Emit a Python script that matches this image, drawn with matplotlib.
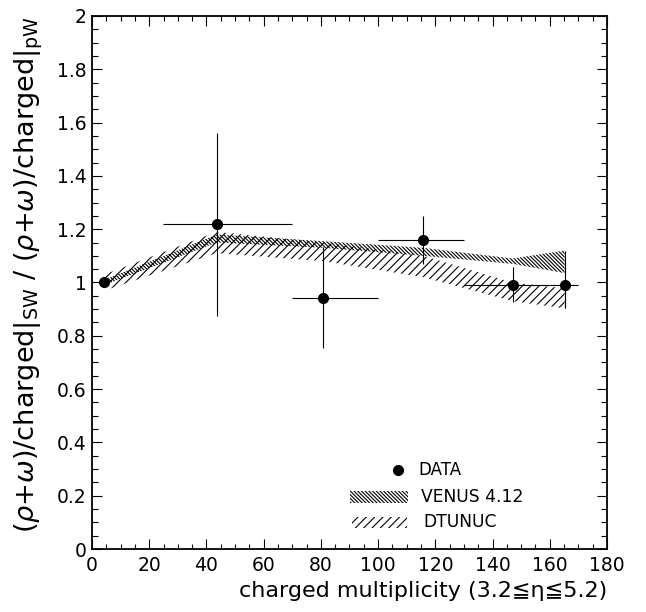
import matplotlib
matplotlib.use("Agg")
import matplotlib.pyplot as plt
from matplotlib.ticker import MultipleLocator, FuncFormatter
from matplotlib.patches import Rectangle
from matplotlib.lines import Line2D

# ---- data ----
data_x = [4.3, 43.6, 80.9, 115.8, 147.0, 165.2]
data_y = [1.0, 1.218, 0.942, 1.159, 0.99, 0.99]
bin_low = [4.3, 24.9, 70.0, 100.0, 130.0, 160.0]
bin_high = [4.3, 70.0, 100.0, 130.0, 160.0, 170.0]
err_low = [1.0, 0.875, 0.753, 1.068, 0.928, 0.904]
err_high = [1.0, 1.560, 1.134, 1.251, 1.059, 1.078]

band_x = [4.3, 43.6, 80.9, 115.8, 147.0, 165.2]
venus_lo = [0.99, 1.15, 1.13, 1.10, 1.07, 1.035]
venus_hi = [1.01, 1.18, 1.155, 1.13, 1.09, 1.12]
dtunuc_lo = [0.97, 1.11, 1.08, 1.02, 0.93, 0.903]
dtunuc_hi = [1.03, 1.19, 1.15, 1.10, 1.00, 0.978]

legend_labels = ["DATA", "VENUS 4.12", "DTUNUC"]
xlabel = "charged multiplicity (3.2≦η≦5.2)"
ylabel = r"$(\rho$+$\omega)$/charged$|_{\rm SW}$ / $(\rho$+$\omega)$/charged$|_{\rm pW}$"

plt.rcParams['font.family'] = ['DejaVu Sans']
plt.rcParams['mathtext.fontset'] = 'dejavusans'
plt.rcParams['hatch.color'] = 'black'
plt.rcParams['hatch.linewidth'] = 0.8

fig = plt.figure(figsize=(6.46, 6.12), dpi=100)
ax = fig.add_axes([0.1424, 0.1029, 0.7972, 0.871])

VENUS_HATCH = '\\' * 9
DT_HATCH = '////'

ax.fill_between(band_x, venus_lo, venus_hi, facecolor='none', edgecolor='black',
                hatch=VENUS_HATCH, linewidth=0, zorder=2)
ax.fill_between(band_x, dtunuc_lo, dtunuc_hi, facecolor='none', edgecolor='black',
                hatch=DT_HATCH, linewidth=0, zorder=2)
ax.vlines([band_x[-1]], [venus_lo[-1]], [venus_hi[-1]], color='black', lw=0.8, zorder=3)
ax.vlines([band_x[-1]], [dtunuc_lo[-1]], [dtunuc_hi[-1]], color='black', lw=0.8, zorder=3)

xerr = [[x - lo for x, lo in zip(data_x, bin_low)], [hi - x for x, hi in zip(data_x, bin_high)]]
yerr = [[y - lo for y, lo in zip(data_y, err_low)], [hi - y for y, hi in zip(data_y, err_high)]]
ax.errorbar(data_x, data_y, xerr=xerr, yerr=yerr, fmt='o', color='black', ms=7,
            elinewidth=0.8, capsize=0, zorder=4)

ax.set_xlim(0, 180)
ax.set_ylim(0, 2)
ax.xaxis.set_major_locator(MultipleLocator(20))
ax.xaxis.set_minor_locator(MultipleLocator(5))
ax.yaxis.set_major_locator(MultipleLocator(0.2))
ax.yaxis.set_minor_locator(MultipleLocator(0.05))
ax.yaxis.set_major_formatter(FuncFormatter(lambda v, p: '%g' % round(v, 2)))
ax.tick_params(which='both', direction='in', top=True, right=True, labelsize=13.5, width=0.8)
ax.tick_params(axis='x', which='major', length=7, pad=5)
ax.tick_params(axis='x', which='minor', length=3.5)
ax.tick_params(axis='y', which='major', length=7, pad=4)
ax.tick_params(axis='y', which='minor', length=4.5)
for s in ax.spines.values():
    s.set_linewidth(1.3)

ax.set_xlabel(xlabel, fontsize=16, loc='right', labelpad=4)
ax.set_ylabel(ylabel, fontsize=19.5, loc='top')
ax.yaxis.set_label_coords(-0.092, 1.0)

# ---- legend ----
tr = ax.transAxes
ax.add_line(Line2D([0.5936], [0.1482], marker='o', ms=7, color='black', transform=tr))
ax.text(0.6336, 0.1482, legend_labels[0], transform=tr, fontsize=12, va='center', ha='left')
ax.add_patch(Rectangle((0.5016, 0.0869), 0.1126, 0.0225, transform=tr, facecolor='none',
                       edgecolor='black', hatch=VENUS_HATCH, linewidth=0))
ax.text(0.6388, 0.0981, legend_labels[1], transform=tr, fontsize=12.3, va='center', ha='left')
ax.add_patch(Rectangle((0.5049, 0.0388), 0.1068, 0.0218, transform=tr, facecolor='none',
                       edgecolor='black', hatch=DT_HATCH, linewidth=0))
ax.text(0.6427, 0.0512, legend_labels[2], transform=tr, fontsize=12.3, va='center', ha='left')

fig.savefig('out.png', dpi=100)
